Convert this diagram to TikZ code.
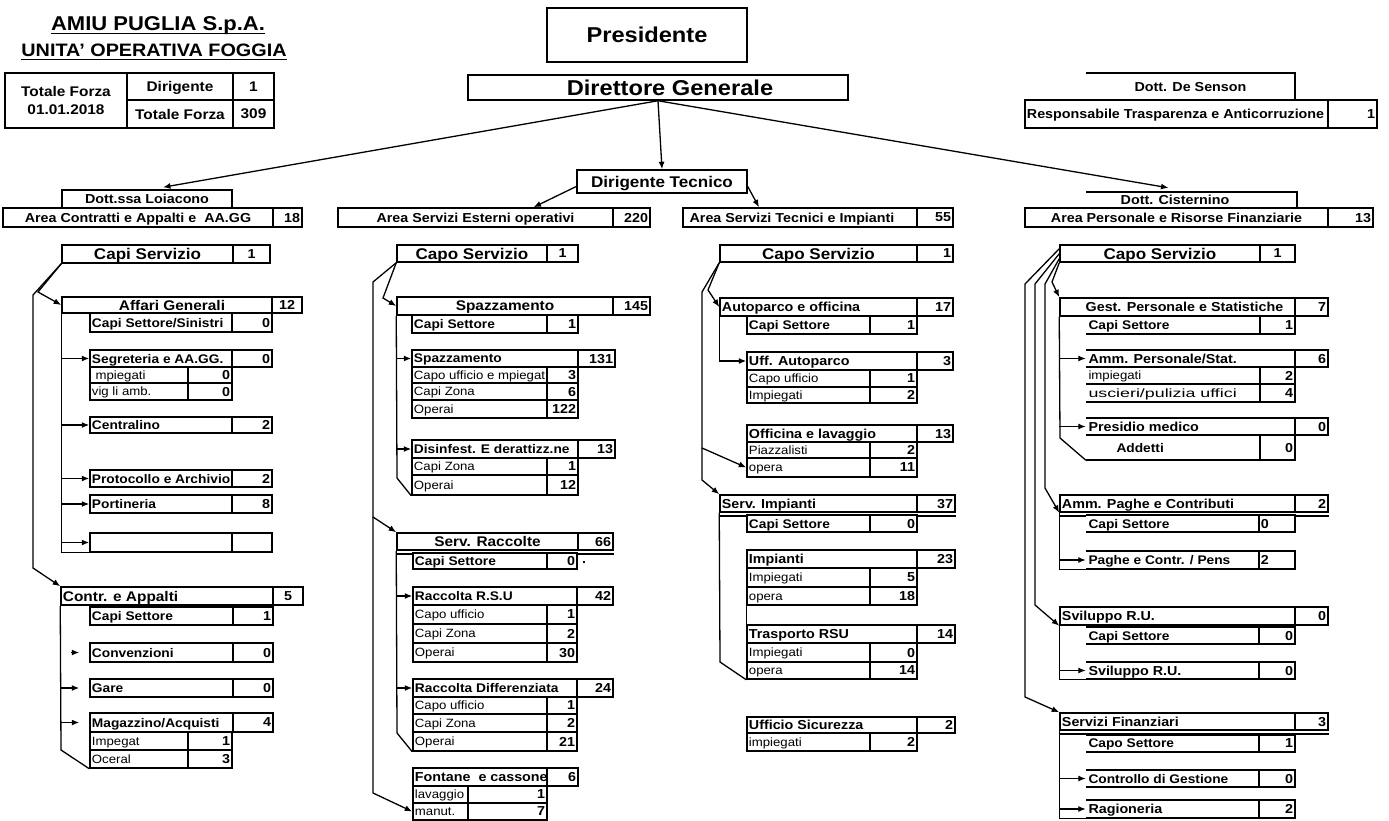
\documentclass[tikz,border=0pt]{standalone}
\usepackage{fontspec}
\usepackage{graphicx}
\setmainfont{Liberation Sans}[FakeStretch=1.1]
\usetikzlibrary{arrows.meta}
\tikzset{
 bd/.style={line width=1.5pt, line join=miter},
 box/.style={bd, draw, fill=white, inner sep=0pt, rectangle},
 obox/.style={draw=none, fill=white, inner sep=0pt, rectangle},
 conn/.style={line width=1.3pt},
 arr/.style={conn, -{Latex[length=7.5pt,width=6pt]}},
 big/.style={font=\fontsize{21.5}{24}\selectfont\bfseries, inner sep=0pt, text depth=0pt},
 dts/.style={font=\fontsize{15.5}{18}\selectfont\bfseries, inner sep=0pt, text depth=0pt},
 hd/.style={font=\fontsize{13}{15}\selectfont\bfseries, inner sep=0pt, text depth=0pt},
 hdl/.style={font=\fontsize{14}{16}\selectfont\bfseries, inner sep=0pt, text depth=0pt},
 cs/.style={font=\fontsize{15.5}{17}\selectfont\bfseries, inner sep=0pt, text depth=0pt},
 sb/.style={font=\fontsize{12.5}{14}\selectfont\bfseries, inner sep=0pt, text depth=0pt},
 rg/.style={font=\fontsize{12}{14}\selectfont, inner sep=0pt, text depth=0pt},
 nm/.style={font=\fontsize{13}{15}\selectfont\bfseries, inner sep=0pt, text depth=0pt},
}
\newcommand\mkbox[6]{\node[#6,minimum width={#4-#2},minimum height={#5-#3}] (#1) at ({(#2+#4)/2},{(#3+#5)/2}) {};}
\newcommand\cL[7]{\mkbox{#1}{#2}{#3}{#4}{#5}{box}\node[#6,anchor=west] (#1-t) at ([xshift=2.5pt]#1.west) {\vphantom{A}#7};}
\newcommand\cC[7]{\mkbox{#1}{#2}{#3}{#4}{#5}{box}\node[#6] (#1-t) at (#1.center) {\vphantom{A}#7};}
\newcommand\cR[7]{\mkbox{#1}{#2}{#3}{#4}{#5}{box}\node[#6,anchor=east] (#1-t) at ([xshift=-2.5pt]#1.east) {\vphantom{A}#7};}
\newcommand\oL[7]{\mkbox{#1}{#2}{#3}{#4}{#5}{obox}\draw[bd] (#1.north west) -- (#1.north east) -- (#1.south east) -- (#1.south west);\node[#6,anchor=west] (#1-t) at ([xshift=2.5pt]#1.west) {\vphantom{A}#7};}
\begin{document}
\begin{tikzpicture}[x=1pt,y=-1pt]
\useasboundingbox[fill=white] (0,0) rectangle (1389,821);
% titles
\node[font=\fontsize{20}{24}\selectfont\bfseries, anchor=base, inner sep=0pt] (t1) at (158,31) {AMIU PUGLIA S.p.A.};
\draw[line width=1.8pt] ([yshift=-2.5pt]t1.base west) -- ([yshift=-2.5pt]t1.base east);
\node[font=\fontsize{18}{22}\selectfont\bfseries, anchor=base, inner sep=0pt] (t2) at (154,57) {UNITA' OPERATIVA FOGGIA};
\draw[line width=1.8pt] ([yshift=-2.5pt]t2.base west) -- ([yshift=-2.5pt]t2.base east);
% totals table
\mkbox{tf}{5}{73}{127}{128}{box}
\node[font=\fontsize{14}{18}\selectfont\bfseries, align=center, inner sep=0pt] (tf-t) at (tf.center) {Totale Forza\\01.01.2018};
\cC{dir}{127}{73}{233}{100}{hdl}{Dirigente}
\cC{dirn}{233}{73}{274}{100}{hdl}{1}
\cC{tot}{127}{100}{233}{128}{hdl}{Totale Forza}
\cC{totn}{233}{100}{274}{128}{hdl}{309}
% top
\cC{pres}{547}{8}{747}{62}{big}{Presidente}
\cC{dg}{468}{75}{848}{100}{big,xshift=12pt}{Direttore Generale}
\cC{dt}{577}{170}{747}{193}{dts}{Dirigente Tecnico}
\mkbox{dsb}{1086}{73}{1295}{100}{obox}
\draw[bd] (dsb.north west) -- (dsb.north east) -- (dsb.south east);
\node[hd] (ds) at (dsb.center) {\vphantom{A}Dott. De Senson};
\cL{resp}{1025}{100}{1328}{128}{hd}{Responsabile Trasparenza e Anticorruzione}
\cR{respn}{1328}{100}{1377}{128}{hd}{1}
% ---------- left column
\cC{loi}{62}{190}{232}{208}{hd}{Dott.ssa Loiacono}
\cC{aca}{3}{208}{273}{227}{hd}{Area Contratti e Appalti e\ \ AA.GG}
\cR{acan}{273}{208}{302}{227}{nm}{18}
\cC{cs1}{62}{245}{233}{263}{cs}{Capi Servizio}
\cC{cs1n}{233}{245}{270}{263}{nm}{1}
\cC{ag}{62}{297}{272}{313}{hdl,xshift=5pt}{Affari Generali}
\cC{agn}{272}{297}{302}{313}{nm}{12}
\cL{css}{90}{313}{232}{332}{sb}{Capi Settore/Sinistri}
\cR{cssn}{232}{313}{272}{332}{nm}{0}
\cL{seg}{90}{350}{232}{367}{sb}{Segreteria e AA.GG.}
\cR{segn}{232}{350}{272}{367}{nm}{0}
\cL{seg1}{90}{367}{188}{383}{rg}{\ mpiegati}
\cR{seg1n}{188}{367}{232}{383}{nm}{0}
\cL{seg2}{90}{383}{188}{400}{rg}{vig li amb.}
\cR{seg2n}{188}{383}{232}{400}{nm}{0}
\cL{cen}{90}{417}{232}{433}{sb}{Centralino}
\cR{cenn}{232}{417}{272}{433}{nm}{2}
\cL{pro}{90}{470}{232}{487}{sb}{Protocollo e Archivio}
\cR{pron}{232}{470}{272}{487}{nm}{2}
\cL{por}{90}{495}{232}{513}{sb}{Portineria}
\cR{porn}{232}{495}{272}{513}{nm}{8}
\cL{emp}{90}{533}{232}{552}{sb}{}
\cR{empn}{232}{533}{272}{552}{nm}{}
\cL{ca}{61}{587}{273}{605}{hdl}{Contr. e Appalti}
\cC{can}{273}{587}{303}{605}{nm}{5}
\cL{cs2}{90}{607}{233}{625}{sb}{Capi Settore}
\cR{cs2n}{233}{607}{273}{625}{nm}{1}
\cL{conv}{90}{643}{233}{662}{sb}{Convenzioni}
\cR{convn}{233}{643}{273}{662}{nm}{0}
\cL{gare}{90}{679}{233}{697}{sb}{Gare}
\cR{garen}{233}{679}{273}{697}{nm}{0}
\cL{mag}{90}{713}{233}{732}{sb}{Magazzino/Acquisti}
\cR{magn}{233}{713}{273}{732}{nm}{4}
\cL{mag1}{90}{732}{188}{750}{rg}{Impegat}
\cR{mag1n}{188}{732}{232}{750}{nm}{1}
\cL{mag2}{90}{750}{188}{768}{rg}{Oceral}
\cR{mag2n}{188}{750}{232}{768}{nm}{3}
% ---------- middle-left column
\cC{ase}{338}{208}{613}{227}{hd}{Area Servizi Esterni operativi}
\cR{asen}{613}{208}{650}{227}{nm}{220}
\cC{cs3}{397}{245}{547}{262}{cs}{Capo Servizio}
\cC{cs3n}{547}{245}{578}{262}{nm}{1}
\cC{spz}{397}{297}{613}{315}{hdl}{Spazzamento}
\cR{spzn}{613}{297}{650}{315}{nm}{145}
\cL{cs4}{412}{315}{547}{333}{sb}{Capi Settore}
\cR{cs4n}{547}{315}{578}{333}{nm}{1}
\cL{spa}{412}{350}{578}{367}{sb}{Spazzamento}
\cR{span}{578}{350}{615}{367}{nm}{131}
\cL{spa1}{412}{367}{547}{383}{rg}{Capo ufficio e mpiegat}
\cR{spa1n}{547}{367}{578}{383}{nm}{3}
\cL{spa2}{412}{383}{547}{400}{rg}{Capi Zona}
\cR{spa2n}{547}{383}{578}{400}{nm}{6}
\cL{spa3}{412}{400}{547}{418}{rg}{Operai}
\cR{spa3n}{547}{400}{578}{418}{nm}{122}
\cL{dis}{412}{440}{578}{458}{sb}{Disinfest. E derattizz.ne}
\cR{disn}{578}{440}{615}{458}{nm}{13}
\cL{dis1}{412}{458}{547}{475}{rg}{Capi Zona}
\cR{dis1n}{547}{458}{578}{475}{nm}{1}
\cL{dis2}{412}{475}{547}{495}{rg}{Operai}
\cR{dis2n}{547}{475}{578}{495}{nm}{12}
\cC{src}{397}{533}{578}{550}{hdl}{Serv. Raccolte}
\cR{srcn}{578}{533}{613}{550}{nm}{66}
\draw[bd] ([yshift=-3pt]src.south west) -- ([yshift=-3pt]srcn.south east);
\cL{cs5}{413}{553}{547}{569}{sb}{Capi Settore}
\cR{cs5n}{547}{553}{577}{569}{nm}{0}
\node[nm] (dot) at (584,563) {.};
\cL{rsu}{413}{587}{577}{605}{sb}{Raccolta R.S.U}
\cR{rsun}{577}{587}{613}{605}{nm}{42}
\cL{rsu1}{413}{605}{547}{624}{rg}{Capo ufficio}
\cR{rsu1n}{547}{605}{577}{624}{nm}{1}
\cL{rsu2}{413}{624}{547}{643}{rg}{Capi Zona}
\cR{rsu2n}{547}{624}{577}{643}{nm}{2}
\cL{rsu3}{413}{643}{547}{662}{rg}{Operai}
\cR{rsu3n}{547}{643}{577}{662}{nm}{30}
\cL{rd}{413}{679}{577}{697}{sb}{Raccolta Differenziata}
\cR{rdn}{577}{679}{613}{697}{nm}{24}
\cL{rd1}{413}{697}{547}{714}{rg}{Capo ufficio}
\cR{rd1n}{547}{697}{577}{714}{nm}{1}
\cL{rd2}{413}{714}{547}{732}{rg}{Capi Zona}
\cR{rd2n}{547}{714}{577}{732}{nm}{2}
\cL{rd3}{413}{732}{547}{751}{rg}{Operai}
\cR{rd3n}{547}{732}{577}{751}{nm}{21}
\cL{fon}{413}{768}{547}{786}{hd}{Fontane\ \ e cassone}
\cR{fonn}{547}{768}{578}{786}{nm}{6}
\cL{fon1}{413}{786}{468}{803}{rg}{lavaggio}
\cR{fon1n}{468}{786}{547}{803}{nm}{1}
\cL{fon2}{413}{803}{468}{820}{rg}{manut.}
\cR{fon2n}{468}{803}{547}{820}{nm}{7}
% ---------- middle-right column
\cC{ast}{683}{208}{917}{227}{hd,xshift=-8pt}{Area Servizi Tecnici e Impianti}
\cR{astn}{917}{208}{953}{227}{nm}{55}
\cC{cs6}{720}{245}{917}{262}{cs}{Capo Servizio}
\cR{cs6n}{917}{245}{953}{262}{nm}{1}
\cL{aut}{720}{298}{917}{316}{hd}{Autoparco e officina}
\cR{autn}{917}{298}{953}{316}{nm}{17}
\cL{cs7}{747}{316}{870}{334}{sb}{Capi Settore}
\cR{cs7n}{870}{316}{917}{334}{nm}{1}
\cL{ufa}{747}{352}{917}{370}{hd}{Uff. Autoparco}
\cR{ufan}{917}{352}{953}{370}{nm}{3}
\cL{ufa1}{747}{370}{870}{387}{rg}{Capo ufficio}
\cR{ufa1n}{870}{370}{917}{387}{nm}{1}
\cL{ufa2}{747}{387}{870}{403}{rg}{Impiegati}
\cR{ufa2n}{870}{387}{917}{403}{nm}{2}
\cL{ofl}{747}{425}{917}{442}{hd}{Officina e lavaggio}
\cR{ofln}{917}{425}{953}{442}{nm}{13}
\cL{ofl1}{747}{442}{870}{458}{rg}{Piazzalisti}
\cR{ofl1n}{870}{442}{917}{458}{nm}{2}
\cL{ofl2}{747}{458}{870}{477}{rg}{opera}
\cR{ofl2n}{870}{458}{917}{477}{nm}{11}
\cL{sim}{720}{495}{917}{512}{hd}{Serv. Impianti}
\cR{simn}{917}{495}{955}{512}{nm}{37}
\draw[bd] ([yshift=-3pt]sim.south west) -- ([yshift=-3pt]simn.south east);
\cL{cs8}{747}{515}{870}{532}{sb}{Capi Settore}
\cR{cs8n}{870}{515}{917}{532}{nm}{0}
\cL{imp}{747}{550}{917}{568}{hd}{Impianti}
\cR{impn}{917}{550}{955}{568}{nm}{23}
\cL{imp1}{747}{568}{870}{587}{rg}{Impiegati}
\cR{imp1n}{870}{568}{917}{587}{nm}{5}
\cL{imp2}{747}{587}{870}{605}{rg}{opera}
\cR{imp2n}{870}{587}{917}{605}{nm}{18}
\cL{trs}{747}{625}{917}{643}{hd}{Trasporto RSU}
\cR{trsn}{917}{625}{955}{643}{nm}{14}
\draw[bd] (imp2.south west) -- (trs.north west);
\cL{trs1}{747}{643}{870}{662}{rg}{Impiegati}
\cR{trs1n}{870}{643}{917}{662}{nm}{0}
\cL{trs2}{747}{662}{870}{679}{rg}{opera}
\cR{trs2n}{870}{662}{917}{679}{nm}{14}
\cL{usi}{747}{717}{917}{733}{hd}{Ufficio Sicurezza}
\cR{usin}{917}{717}{955}{733}{nm}{2}
\cL{usi1}{747}{733}{870}{751}{rg}{impiegati}
\cR{usi1n}{870}{733}{917}{751}{nm}{2}
% ---------- right column
\mkbox{cisb}{1086}{192}{1297}{208}{obox}
\draw[bd] (cisb.north west) -- (cisb.north east) -- (cisb.south east);
\node[hd] (cis) at (1175,200) {\vphantom{A}Dott. Cisternino};
\cC{apr}{1025}{208}{1328}{227}{hd}{Area Personale e Risorse Finanziarie}
\cR{aprn}{1328}{208}{1373}{227}{nm}{13}
\cC{cs9}{1060}{245}{1260}{262}{cs}{Capo Servizio}
\cC{cs9n}{1260}{245}{1295}{262}{nm}{1}
\cC{gps}{1060}{298}{1295}{316}{hd,xshift=7pt}{Gest. Personale e Statistiche}
\cR{gpsn}{1295}{298}{1328}{316}{nm}{7}
\oL{cs10}{1086}{316}{1260}{334}{sb}{Capi Settore}
\cR{cs10n}{1260}{316}{1295}{334}{nm}{1}
\oL{aps}{1086}{350}{1295}{367}{hd}{Amm. Personale/Stat.}
\cR{apsn}{1295}{350}{1328}{367}{nm}{6}
\oL{aps1}{1086}{367}{1260}{384}{rg}{impiegati}
\cR{aps1n}{1260}{367}{1295}{384}{nm}{2}
\oL{aps2}{1086}{384}{1260}{402}{rg}{\scalebox{1.35}[1]{uscieri/pulizia uffici}}
\cR{aps2n}{1260}{384}{1295}{402}{nm}{4}
\oL{prm}{1086}{418}{1295}{435}{hd}{Presidio medico}
\cR{prmn}{1295}{418}{1328}{435}{nm}{0}
\oL{add}{1086}{435}{1260}{460}{sb,xshift=28pt}{Addetti}
\cR{addn}{1260}{435}{1295}{460}{nm}{0}
\cL{apc}{1060}{495}{1295}{512}{hd}{Amm. Paghe e Contributi}
\cR{apcn}{1295}{495}{1328}{512}{nm}{2}
\draw[bd] ([yshift=-3pt]apc.south west) -- ([yshift=-3pt]apcn.south east);
\oL{cs11}{1086}{515}{1259}{532}{sb}{Capi Settore}
\cL{cs11n}{1259}{515}{1295}{532}{nm}{0}
\oL{pag}{1086}{551}{1259}{569}{sb}{Paghe e Contr. / Pens}
\cL{pagn}{1259}{551}{1295}{569}{nm}{2}
\cL{svr}{1060}{607}{1295}{625}{hd}{Sviluppo R.U.}
\cR{svrn}{1295}{607}{1328}{625}{nm}{0}
\oL{cs12}{1086}{627}{1259}{644}{sb}{Capi Settore}
\cR{cs12n}{1259}{627}{1295}{644}{nm}{0}
\oL{svr2}{1086}{662}{1259}{679}{hd}{Sviluppo R.U.}
\cR{svr2n}{1259}{662}{1295}{679}{nm}{0}
\cL{sfi}{1060}{713}{1295}{730}{hd}{Servizi Finanziari}
\cR{sfin}{1295}{713}{1328}{730}{nm}{3}
\draw[bd] ([yshift=-3pt]sfi.south west) -- ([yshift=-3pt]sfin.south east);
\oL{cs13}{1086}{735}{1259}{752}{sb}{Capo Settore}
\cR{cs13n}{1259}{735}{1295}{752}{nm}{1}
\oL{cdg}{1086}{770}{1259}{787}{sb}{Controllo di Gestione}
\cR{cdgn}{1259}{770}{1295}{787}{nm}{0}
\oL{rag}{1086}{800}{1259}{818}{hd}{Ragioneria}
\cR{ragn}{1259}{800}{1295}{818}{nm}{2}
% ---------- connectors: top
\draw[arr] (dg.south) -- (dt.north);
\draw[arr] (dg.south) -- ([xshift=16pt,yshift=2pt]loi.north);
\draw[arr] (dg.south) -- ([xshift=-23pt,yshift=4pt]cisb.north);
\draw[arr] ([yshift=-5pt]dt.west) -- ([xshift=58pt]ase.north);
\draw[arr] ([yshift=-5pt]dt.east) -- ([xshift=-41pt]ast.north);
% left
\draw[conn] (ag.south west) |- (emp.south west);
\foreach \n in {seg,cen,pro,por,emp} \draw[arr] (ag.south west |- \n.west) -- (\n.west);
\draw[arr] (cs1.south west) -- (38,292) -- (ag.west);
\draw[arr] (cs1.south west) -- (33,295) -- (33,568) -- (ca.north west);
\draw[conn] (ca.south west) -- (61,750) -- (mag2.south west);
\draw[arr] ([xshift=-18pt]conv.west) -- ([xshift=-10pt]conv.west);
\foreach \n in {gare,mag} \draw[arr,shorten >=10pt] (ca.south west |- \n.west) -- (\n.west);
% middle-left
\draw[conn] (spz.south west) -- (397,478) -- (dis2.south west);
\draw[arr] (spz.south west |- spa.west) -- (spa.west);
\draw[arr] (spz.south west |- dis.west) -- (dis.west);
\draw[arr] (cs3.south west) -- (383,298) -- (spz.west);
\coordinate (j2) at (373,517);
\draw[arr] (cs3.south west) -- (373,282) -- (j2) -- (src.north west);
\draw[arr] (j2) -- (373,793) -- (fon2.west);
\draw[conn] (src.south west) -- (397,733) -- (rd3.south west);
\draw[arr] (src.south west |- rsu.west) -- (rsu.west);
\draw[arr] (src.south west |- rd.west) -- (rd.west);
% middle-right
\draw[arr] (cs6.south west) -- (708,290) -- (aut.west);
\coordinate (j1) at (702,448);
\draw[arr] (cs6.south west) -- (702,292) -- (j1) -- (ofl2.west);
\draw[arr] (j1) -- (702,480) -- (sim.north west);
\draw[arr] (aut.south west) |- (ufa.west);
\draw[conn] (sim.south west) -- (720,662) -- (trs2.south west);
% right
\draw[conn] (gps.south west) -- (1060,438) -- (add.south west);
\draw[arr] (gps.south west |- aps.west) -- (aps.west);
\draw[arr] (gps.south west |- prm.west) -- (prm.west);
\draw[arr] ([yshift=14pt]cs9.south west) -- (1025,284) -- (1025,697) -- (sfi.north west);
\draw[arr] ([yshift=9pt]cs9.south west) -- (1035,284) -- (1035,605) -- (svr.south west);
\draw[arr] ([yshift=4pt]cs9.south west) -- (1045,284) -- (1045,488) -- (apc.south west);
\draw[arr] (cs9.south west) -- (1052,282) -- (gps.north west);
\draw[conn] (apc.south west) |- (pag.south west);
\draw[arr] (apc.south west |- pag.west) -- (pag.west);
\draw[conn] (svr.south west) |- (svr2.south west);
\draw[arr] (svr.south west |- svr2.west) -- (svr2.west);
\draw[conn] (sfi.south west) |- (rag.south west);
\draw[arr] (sfi.south west |- cdg.west) -- (cdg.west);
\draw[arr] (sfi.south west |- rag.west) -- (rag.west);
\end{tikzpicture}
\end{document}
